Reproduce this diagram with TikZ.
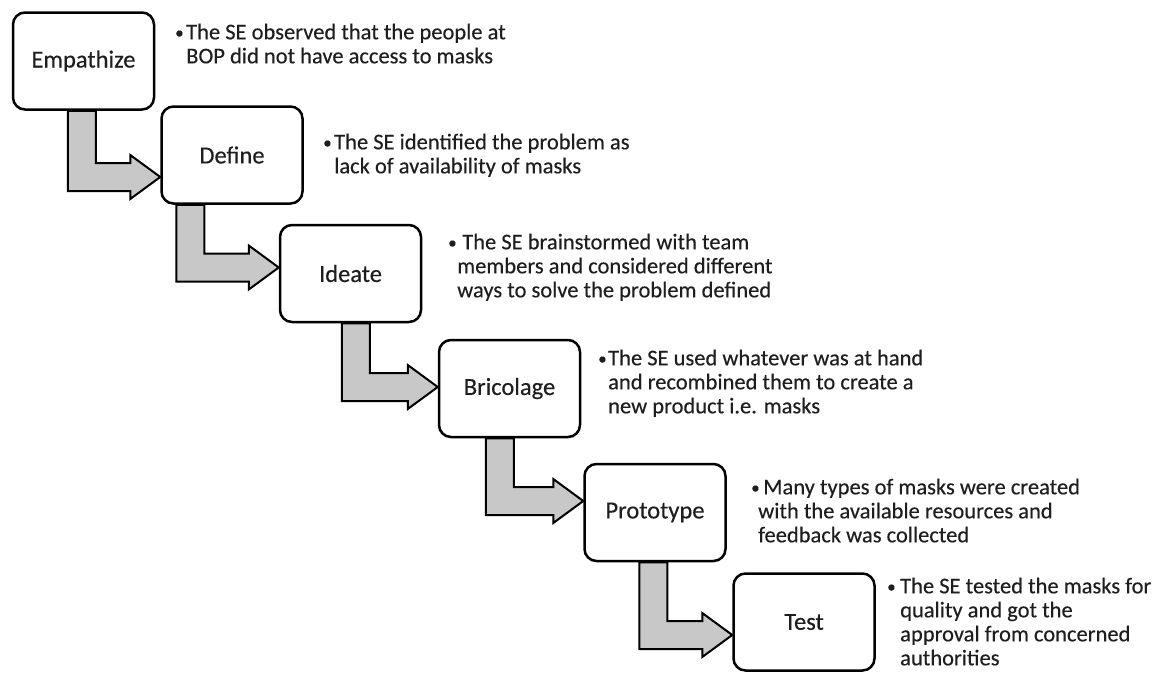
\documentclass[tikz,border=0pt]{standalone}
\usepackage{fontspec}
\setmainfont{Carlito}[FakeBold=0.3]
\usepackage{tikz}
\usetikzlibrary{calc,backgrounds}
\setlength{\parindent}{0pt}
\definecolor{arrowgray}{RGB}{200,200,200}
\definecolor{inkblack}{RGB}{30,30,30}
\newcommand{\boxfont}{\fontsize{24.5}{28}\selectfont}
\newcommand{\notefont}{\fontsize{22.5}{24}\selectfont}
% bullet with hanging width
\newcommand{\bul}[1]{\makebox[#1pt][l]{\fontsize{17}{17}\selectfont\raisebox{1pt}{•}}}
% bent block arrow: source, shaft offset, target, tip offset below target centre
\newcommand{\stepArrow}[4]{%
  \draw[bentarrow] let \p1=(#1.south west), \p2=(#3.west), \p3=(\x1+#2pt,\y2-#4pt) in
    (\x3,\y1) -- (\x3,\y3-14pt) -- (\x2-30pt,\y3-14pt) -- (\x2-30pt,\y3-22pt)
    -- (\x2,\y3) -- (\x2-30pt,\y3+22pt) -- (\x2-30pt,\y3+14pt)
    -- (\x3+28pt,\y3+14pt) -- (\x3+28pt,\y1) -- cycle;}

\begin{document}
\begin{tikzpicture}[x=1pt,y=1pt]

%
% Styles
%
\tikzstyle{stage}     = [draw=black,fill=white,line width=2.5pt,rounded corners=12pt,
                         minimum width=141pt,minimum height=97pt,font=\boxfont,text=inkblack]
\tikzstyle{note}      = [anchor=north west,inner sep=0pt,align=left,font=\notefont,text=inkblack]
\tikzstyle{bentarrow} = [draw=black,fill=arrowgray,line width=2pt,line join=miter]

\useasboundingbox (0,0) rectangle (1165,-673);

\node[stage] (emp) at ( 83.5, -61)   {Empathize};
\node[stage] (def) at (232,   -155)  {Define};
\node[stage] (ide) at (350.5, -273.5){Ideate};
\node[stage] (bri) at (509.5, -388.5){Bricolage};
\node[stage] (pro) at (655,   -512.5){Prototype};
\node[stage] (tes) at (804,   -622)  {Test};

\node[note] (empnote) at (175, -23.5) {\bul{11}The SE observed that the people at\\
  \hspace*{11pt}BOP did not have access to masks};
\node[note] (defnote) at (323, -133.5) {\bul{11}The SE identified the problem as\\
  \hspace*{11pt}lack of availability of masks};
\node[note] (idenote) at (448, -233.5) {\bul{9}\ The SE brainstormed with team\\
  \hspace*{9pt}members and considered different\\
  \hspace*{9pt}ways to solve the problem defined};
\node[note] (brinote) at (598, -349.5) {\bul{10}The SE used whatever was at hand\\
  \hspace*{10pt}and recombined them to create a\\
  \hspace*{10pt}new product i.e. masks};
\node[note] (pronote) at (751, -478.5) {\bul{7}\ Many types of masks were created\\
  \hspace*{7pt}with the available resources and\\
  \hspace*{7pt}feedback was collected};
\node[note] (tesnote) at (887, -577.5) {\bul{13}The SE tested the masks for\\
  \hspace*{13pt}quality and got the\\
  \hspace*{13pt}approval from concerned\\
  \hspace*{13pt}authorities};

\begin{scope}[on background layer]
\stepArrow{emp}{56}{def}{22}
\stepArrow{def}{16}{ide}{-6}
\stepArrow{ide}{63}{bri}{-1.5}
\stepArrow{bri}{48}{pro}{-11.5}
\stepArrow{pro}{56}{tes}{13}
\end{scope}

\end{tikzpicture}
\end{document}
